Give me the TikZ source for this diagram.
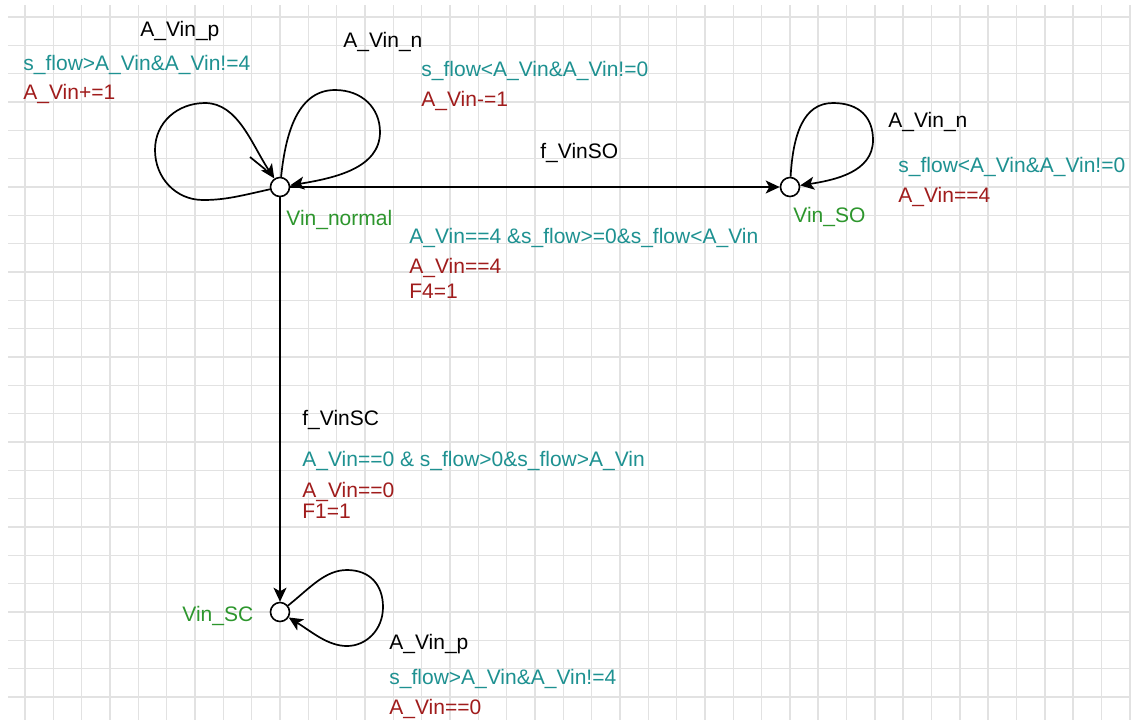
\documentclass[tikz,border=0pt]{standalone}
\usepackage{fontspec}
\setmainfont{Liberation Sans}
\usetikzlibrary{arrows.meta}
\definecolor{guardc}{RGB}{30,145,145}
\definecolor{updatec}{RGB}{160,28,28}
\definecolor{locc}{RGB}{45,150,45}
\definecolor{gridc}{RGB}{226,226,226}
\begin{document}
\begin{tikzpicture}[x=0.5pt,y=-0.5pt,
  every node/.style={font=\fontsize{10.5}{12}\selectfont},
  loc/.style={circle,draw,fill=white,line width=0.8pt,minimum size=9.5pt,inner sep=0pt},
  edge/.style={line width=0.85pt,-{Stealth[length=7pt,width=6.5pt,inset=1.8pt]}},
  lbl/.style={anchor=base west,inner sep=0pt},
  sync/.style={lbl,text=black},
  guard/.style={lbl,text=guardc},
  upd/.style={lbl,text=updatec},
  locname/.style={lbl,text=locc},
  gridline/.style={gridc,line width=0.75pt}]

% canvas and grid
\fill[white] (0,0) rectangle (1131,720);
\useasboundingbox (0,0) rectangle (1131,720);
\foreach \i in {0,...,39}
  \draw[gridline] ({25+28.33*\i},5) -- ({25+28.33*\i},720);
\foreach \j in {0,...,24}
  \draw[gridline] (8,{17+28.33*\j}) -- (1131,{17+28.33*\j});

% locations
\node[loc] (n)  at (280,187) {};
\node[loc] (so) at (790,187) {};
\node[loc] (sc) at (280,612) {};

% transitions between locations
\draw[edge] (n) -- (so);
\draw[edge] (n) -- (sc);

% self loops on Vin_normal
\draw[edge] (n) .. controls (240,196) and (225,200) .. (203,200)
  .. controls (176,200) and (155,178) .. (155,150)
  .. controls (155,122) and (178,103) .. (205,103)
  .. controls (238,103) and (252,145) .. (n);
\draw[line width=0.85pt] (250,157) -- (266,170);
\draw[edge] (n) .. controls (285,140) and (295,90) .. (335,90)
  .. controls (362,90) and (380,108) .. (380,132)
  .. controls (380,168) and (335,178) .. (n);

% self loop on Vin_SO
\draw[edge] (so) .. controls (793,135) and (803,103) .. (833,103)
  .. controls (860,103) and (873,118) .. (873,140)
  .. controls (873,172) and (835,180) .. (so);

% self loop on Vin_SC
\draw[edge] (sc) .. controls (310,588) and (325,570) .. (347,570)
  .. controls (370,570) and (383,585) .. (383,607)
  .. controls (383,630) and (366,646) .. (347,646)
  .. controls (328,646) and (312,632) .. (sc);

% location names
\node[locname] (ln) at (286,225) {Vin\_normal};
\node[locname] (lso) at (793,222) {Vin\_SO};
\node[locname] (lsc) at (182,621) {Vin\_SC};

% labels: Vin_normal loops
\node[sync]  (s1) at (140,36)  {A\_Vin\_p};
\node[guard] (g1) at (23,70)   {s\_flow>A\_Vin\&A\_Vin!=4};
\node[upd]   (u1) at (23,99)   {A\_Vin+=1};
\node[sync]  (s2) at (343,47)  {A\_Vin\_n};
\node[guard] (g2) at (421,76)  {s\_flow<A\_Vin\&A\_Vin!=0};
\node[upd]   (u2) at (421,106) {A\_Vin-=1};

% labels: Vin_normal -> Vin_SO
\node[sync]  (s3) at (540,158) {f\_VinSO};
\node[guard] (g3) at (409,243) {A\_Vin==4 \&s\_flow>=0\&s\_flow<A\_Vin};
\node[upd]   (u3) at (409,273) {A\_Vin==4};
\node[upd]   (u3b) at (409,298) {F4=1};

% labels: Vin_SO loop
\node[sync]  (s4) at (888,127) {A\_Vin\_n};
\node[guard] (g4) at (898,172) {s\_flow<A\_Vin\&A\_Vin!=0};
\node[upd]   (u4) at (898,202) {A\_Vin==4};

% labels: Vin_normal -> Vin_SC
\node[sync]  (s5) at (302,425) {f\_VinSC};
\node[guard] (g5) at (302,466) {A\_Vin==0 \& s\_flow>0\&s\_flow>A\_Vin};
\node[upd]   (u5) at (302,497) {A\_Vin==0};
\node[upd]   (u5b) at (302,518) {F1=1};

% labels: Vin_SC loop
\node[sync]  (s6) at (389,649) {A\_Vin\_p};
\node[guard] (g6) at (389,684) {s\_flow>A\_Vin\&A\_Vin!=4};
\node[upd]   (u6) at (389,714) {A\_Vin==0};
\end{tikzpicture}
\end{document}
